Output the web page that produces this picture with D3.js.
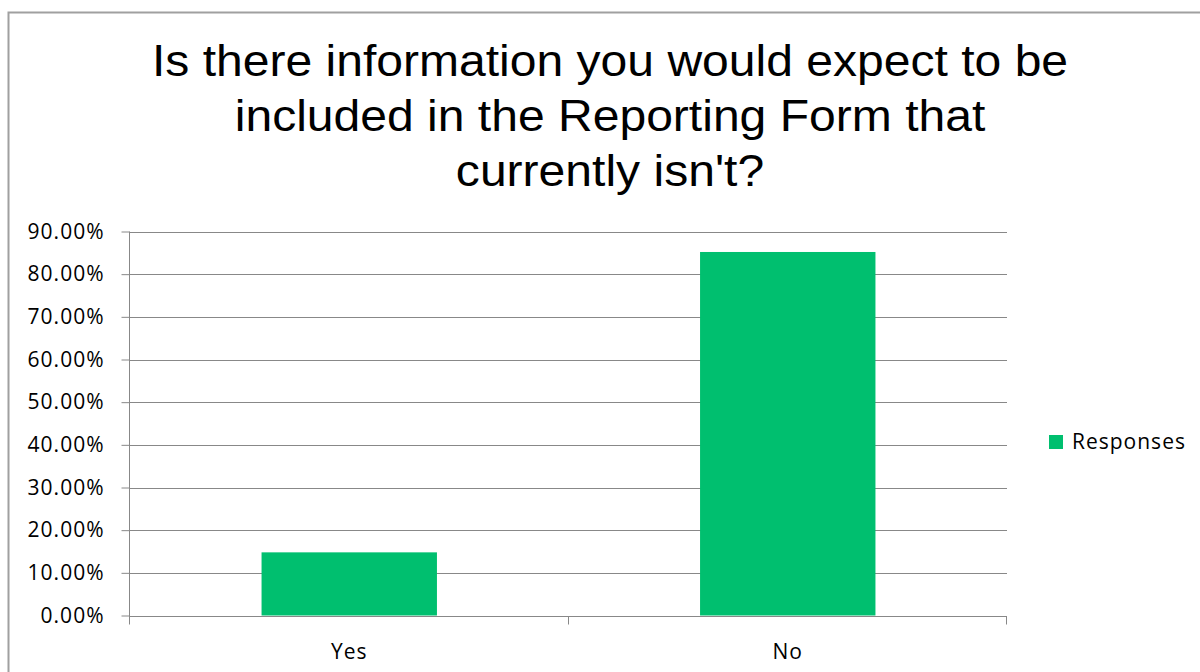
<!DOCTYPE html>
<html>
<head>
<meta charset="utf-8">
<script src="https://cdn.jsdelivr.net/npm/d3@7"></script>
<style>
  html, body { margin: 0; padding: 0; background: #fff; }
  svg { display: block; }
</style>
</head>
<body>
<svg id="chart" width="1200" height="672"></svg>
<script>
// Survey responses
const categories = ["Yes", "No"];
const responses = [0.148, 0.852];
const seriesName = "Responses";
const yTicks = [0, 0.1, 0.2, 0.3, 0.4, 0.5, 0.6, 0.7, 0.8, 0.9];
const titleLines = [
  "Is there information you would expect to be",
  "included in the Reporting Form that",
  "currently isn't?"
];

const svg = d3.select("#chart");
const W = 1200, H = 672;
const plot = { left: 130, right: 1007, top: 231.5, bottom: 615.5 };
const barColor = "#00bf6f";
const gridColor = "#888888";
const labelFont = "'Open Sans', 'Noto Sans', sans-serif";
const labelSize = 21;
const labelSpacing = "1px";

// Outer chart frame
svg.append("rect")
  .attr("x", 8.5).attr("y", 12.5)
  .attr("width", W + 10).attr("height", H + 10)
  .attr("fill", "#fff")
  .attr("stroke", "#a0a0a0").attr("stroke-width", 2);

// Title, slightly widened around its centre line
const titleCx = 610;
svg.append("text")
  .attr("text-anchor", "middle")
  .attr("font-family", "'Liberation Sans', Arial, sans-serif")
  .attr("font-size", 45)
  .attr("fill", "#000")
  .attr("transform", `translate(${titleCx},0) scale(1.068,1)`)
  .selectAll("tspan")
  .data(titleLines)
  .join("tspan")
  .attr("x", 0)
  .attr("y", (d, i) => 76 + i * 55)
  .text(d => d);

const x = d3.scaleBand()
  .domain(categories)
  .range([plot.left, plot.right])
  .paddingInner(0.6)
  .paddingOuter(0.3);

const y = d3.scaleLinear()
  .domain([0, 0.9])
  .range([plot.bottom, plot.top]);

// Horizontal gridlines
svg.append("g")
  .selectAll("line")
  .data(yTicks)
  .join("line")
  .attr("x1", plot.left).attr("x2", plot.right)
  .attr("y1", d => Math.round(y(d)) + 0.5)
  .attr("y2", d => Math.round(y(d)) + 0.5)
  .attr("stroke", gridColor).attr("stroke-width", 1);

// Bars
svg.append("g")
  .selectAll("rect")
  .data(categories.map((c, i) => ({ c, v: responses[i] })))
  .join("rect")
  .attr("x", d => x(d.c))
  .attr("width", x.bandwidth())
  .attr("y", d => y(d.v))
  .attr("height", d => y(0) - y(d.v))
  .attr("fill", barColor);

// Y axis
const yAxis = svg.append("g")
  .attr("transform", `translate(${plot.left - 0.5},0)`)
  .call(d3.axisLeft(y)
    .tickValues(yTicks)
    .tickSize(8)
    .tickPadding(17)
    .tickFormat(d => (d * 100).toFixed(2) + "%"));
yAxis.select(".domain").attr("stroke", gridColor).attr("d", `M0,${plot.top}V${plot.bottom + 8}`);
yAxis.selectAll(".tick line").attr("stroke", gridColor);
yAxis.selectAll(".tick text")
  .attr("font-family", labelFont)
  .attr("font-size", labelSize)
  .attr("letter-spacing", labelSpacing)
  .attr("fill", "#000");

// X axis (category boundaries as tick marks)
const xAxisG = svg.append("g")
  .attr("transform", `translate(0,${Math.round(plot.bottom) + 0.5})`);
const bounds = [plot.left, (plot.left + plot.right) / 2, plot.right];
xAxisG.selectAll("line")
  .data(bounds)
  .join("line")
  .attr("x1", d => Math.round(d) - 0.5).attr("x2", d => Math.round(d) - 0.5)
  .attr("y1", 0).attr("y2", 8)
  .attr("stroke", gridColor);
xAxisG.selectAll("text")
  .data(categories)
  .join("text")
  .attr("x", d => x(d) + x.bandwidth() / 2)
  .attr("y", 42)
  .attr("text-anchor", "middle")
  .attr("font-family", labelFont)
  .attr("font-size", labelSize)
  .attr("letter-spacing", labelSpacing)
  .attr("fill", "#000")
  .text(d => d);

// Legend
const legend = svg.append("g").attr("transform", "translate(1049,435)");
legend.append("rect").attr("width", 14).attr("height", 14).attr("fill", barColor);
legend.append("text")
  .attr("x", 23).attr("y", 7)
  .attr("dy", "0.35em")
  .attr("font-family", labelFont)
  .attr("font-size", labelSize)
  .attr("letter-spacing", labelSpacing)
  .attr("fill", "#000")
  .text(seriesName);
</script>
</body>
</html>
